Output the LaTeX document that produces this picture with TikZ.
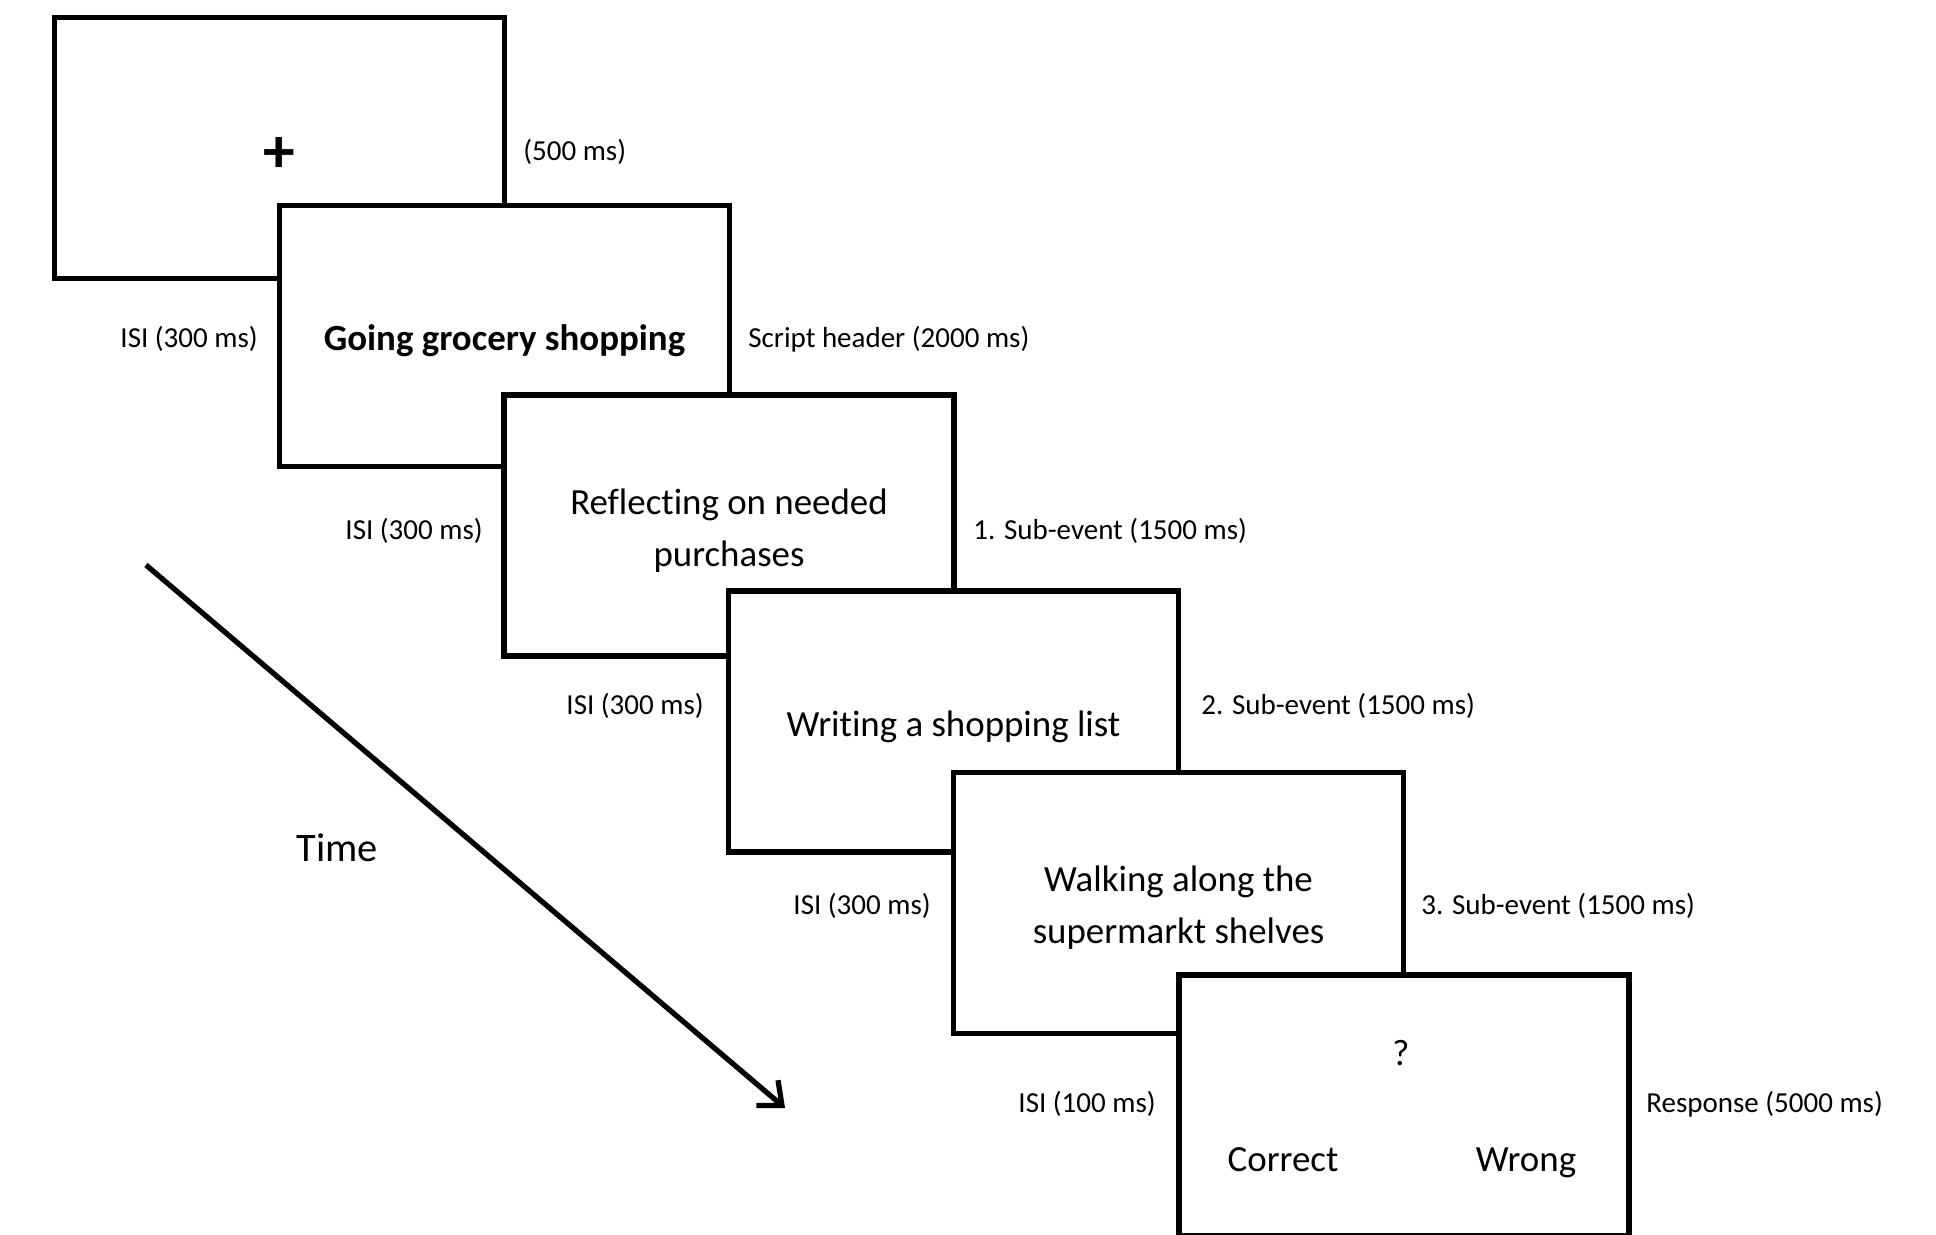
\documentclass[tikz,border=0pt]{standalone}
\usepackage{fontspec}
\setmainfont{Carlito}[Ligatures=NoCommon]
\usetikzlibrary{arrows.meta}

\tikzset{
  screen/.style={draw, line width=3.2pt, fill=white, minimum width=9cm, minimum height=5.22cm, inner sep=0pt},
  scrtext/.style={font=\fontsize{21}{29.5}\selectfont, align=center, inner sep=0pt},
  lbl/.style={font=\fontsize{16.5}{20}\selectfont, inner sep=0pt},
}

\begin{document}
\begin{tikzpicture}[x=0.02cm,y=-0.02cm]
  \clip (0,0) rectangle (1936,1234);
  \fill[white] (0,0) rectangle (1936,1234);
  % screens, each new one covers the previous
  \node[screen] (fix) at (279.5,148) {};
  \node[screen] (hdr) at (504.5,336) {};
  \node[scrtext] (hdrtxt) at ([yshift=-0.1cm]hdr.center) {\bfseries Going grocery shopping};
  \node[screen] (sub1) at (729,525.5) {};
  \node[scrtext] (sub1txt) at ([yshift=-0.1cm]sub1.center) {Reflecting on needed\\purchases};
  \node[screen] (sub2) at (953.5,721.5) {};
  \node[scrtext] (sub2txt) at ([yshift=-0.1cm]sub2.center) {Writing a shopping list};
  \node[screen] (sub3) at (1178.5,903) {};
  \node[scrtext] (sub3txt) at ([yshift=-0.1cm]sub3.center) {Walking along the\\supermarkt shelves};
  \node[screen] (probe) at (1404,1105.5) {};
  \node[font=\fontsize{36}{36}\selectfont\bfseries, inner sep=0pt] (cross) at (279,155) {+};
  \node[scrtext] (qm) at (1401,1053) {?};
  \node[scrtext, anchor=base] (yes) at (1283,1171) {Correct};
  \node[scrtext, anchor=base] (no) at (1526,1171) {Wrong};
  % durations
  \node[lbl, anchor=west] (d0) at (523,152) {(500 ms)};
  \node[lbl, anchor=east] (i1) at (258,339) {ISI (300 ms)};
  \node[lbl, anchor=west] (d1) at (748,339) {Script header (2000 ms)};
  \node[lbl, anchor=east] (i2) at (483,531) {ISI (300 ms)};
  \node[lbl, anchor=west] (d2) at (973,531) {1. Sub-event (1500 ms)};
  \node[lbl, anchor=east] (i3) at (704,706) {ISI (300 ms)};
  \node[lbl, anchor=west] (d3) at (1201,706) {2. Sub-event (1500 ms)};
  \node[lbl, anchor=east] (i4) at (931,906) {ISI (300 ms)};
  \node[lbl, anchor=west] (d4) at (1421,906) {3. Sub-event (1500 ms)};
  \node[lbl, anchor=east] (i5) at (1156,1104) {ISI (100 ms)};
  \node[lbl, anchor=west] (d5) at (1646,1104) {Response (5000 ms)};
  % time axis
  \coordinate (t0) at (146,565);
  \coordinate (t1) at (785,1108);
  \draw[line width=3pt, -{Straight Barb[length=11pt,width=19pt]}] (t0) -- (t1);
  \node[font=\fontsize{23}{26}\selectfont, inner sep=0pt] (time) at (337,848) {Time};
\end{tikzpicture}
\end{document}
